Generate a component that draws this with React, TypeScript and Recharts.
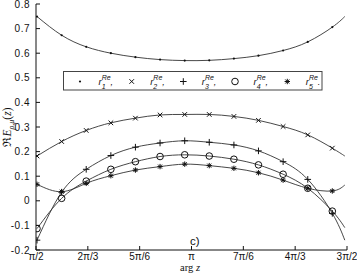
import React from 'react';
import { ComposedChart, Line, XAxis, YAxis, Customized } from 'recharts';

// arg z (radians) of the sampled points; last entry is the curve end (no marker)
const argZ = [1.581, 1.83, 2.078, 2.327, 2.575, 2.824, 3.073, 3.321, 3.57, 3.818, 4.067, 4.316, 4.564, 4.69];
const marked = [true, true, true, true, true, true, true, true, true, true, true, true, true, false];

const r1 = [0.749, 0.673, 0.626, 0.6, 0.584, 0.574, 0.57, 0.571, 0.578, 0.59, 0.611, 0.646, 0.706, 0.749];
const r2 = [0.182, 0.241, 0.286, 0.317, 0.336, 0.349, 0.351, 0.351, 0.343, 0.327, 0.302, 0.268, 0.214, 0.182];
const r3 = [-0.16, 0.035, 0.128, 0.184, 0.218, 0.235, 0.244, 0.238, 0.227, 0.203, 0.159, 0.087, -0.051, -0.16];
const r4 = [-0.113, 0.01, 0.08, 0.128, 0.159, 0.18, 0.187, 0.182, 0.169, 0.146, 0.108, 0.051, -0.042, -0.109];
const r5 = [0.067, 0.037, 0.071, 0.102, 0.125, 0.139, 0.149, 0.143, 0.132, 0.114, 0.084, 0.051, 0.04, 0.064];

const seriesKeys = ['r1', 'r2', 'r3', 'r4', 'r5'];
const seriesMarkers = ['dot', 'cross', 'plus', 'circle', 'star'];
const seriesIndex = ['1', '2', '3', '4', '5'];

const xTicks = [Math.PI / 2, (2 * Math.PI) / 3, (5 * Math.PI) / 6, Math.PI, (7 * Math.PI) / 6, (4 * Math.PI) / 3, (3 * Math.PI) / 2];
const xTickLabels = ['π/2', '2π/3', '5π/6', 'π', '7π/6', '4π/3', '3π/2'];
const yTicks = [-0.2, -0.1, 0, 0.1, 0.2, 0.3, 0.4, 0.5, 0.6, 0.7, 0.8];
const yTickLabels = ['-0.2', '-0.1', '0', '0.1', '0.2', '0.3', '0.4', '0.5', '0.6', '0.7', '0.8'];

const data = argZ.map((x, i) => ({ x, mark: marked[i], r1: r1[i], r2: r2[i], r3: r3[i], r4: r4[i], r5: r5[i] }));

const INK = '#111';
const TICK_FONT = '"Liberation Sans", Arial, sans-serif';
const SERIF = '"Liberation Serif", "Times New Roman", serif';

function Marker({ kind, cx, cy }: { kind: string; cx: number; cy: number }) {
  const s = 2.3;
  const p = 3.3;
  switch (kind) {
    case 'dot':
      return <circle cx={cx} cy={cy} r={1.1} fill={INK} />;
    case 'cross':
      return (
        <g stroke={INK} strokeWidth={1}>
          <line x1={cx - s} y1={cy - s} x2={cx + s} y2={cy + s} />
          <line x1={cx - s} y1={cy + s} x2={cx + s} y2={cy - s} />
        </g>
      );
    case 'plus':
      return (
        <g stroke={INK} strokeWidth={1}>
          <line x1={cx - p} y1={cy} x2={cx + p} y2={cy} />
          <line x1={cx} y1={cy - p} x2={cx} y2={cy + p} />
        </g>
      );
    case 'circle':
      return <circle cx={cx} cy={cy} r={3.3} fill="none" stroke={INK} strokeWidth={1} />;
    default:
      return (
        <g stroke={INK} strokeWidth={1}>
          <line x1={cx - 2} y1={cy - 2} x2={cx + 2} y2={cy + 2} />
          <line x1={cx - 2} y1={cy + 2} x2={cx + 2} y2={cy - 2} />
          <line x1={cx - 2.7} y1={cy} x2={cx + 2.7} y2={cy} />
          <line x1={cx} y1={cy - 2.7} x2={cx} y2={cy + 2.7} />
        </g>
      );
  }
}

const makeDot = (kind: string) => (props: any) => {
  const { cx, cy, index, payload } = props;
  if (!payload || !payload.mark || cx == null || cy == null) return <g key={`d-${kind}-${index}`} />;
  return (
    <g key={`d-${kind}-${index}`}>
      <Marker kind={kind} cx={cx} cy={cy} />
    </g>
  );
};

const nearest = (arr: number[], v: number) => {
  let idx = 0;
  let best = Infinity;
  arr.forEach((t, i) => {
    const d = Math.abs(t - v);
    if (d < best) {
      best = d;
      idx = i;
    }
  });
  return idx;
};

const XTick = (props: any) => {
  const { x, y, payload } = props;
  const idx = nearest(xTicks, payload.value);
  const axisY = y - 3;
  return (
    <g>
      <line x1={x} x2={x} y1={axisY} y2={axisY - 4} stroke={INK} strokeWidth={1} />
      <text x={x} y={y} dy="0.71em" textAnchor="middle" fontFamily={TICK_FONT} fontSize={10} fill={INK}>
        {xTickLabels[idx]}
      </text>
    </g>
  );
};

const YTick = (props: any) => {
  const { x, y, payload } = props;
  const idx = nearest(yTicks, payload.value);
  const axisX = x + 6;
  return (
    <g>
      <line x1={axisX} x2={axisX + 4} y1={y} y2={y} stroke={INK} strokeWidth={1} />
      <text x={x} y={y} dy="0.355em" textAnchor="end" fontFamily={TICK_FONT} fontSize={10} fill={INK} letterSpacing={0.5}>
        {yTickLabels[idx]}
      </text>
    </g>
  );
};

const Decorations = () => {
  const legendX = [80, 131.7, 183.3, 235, 287.3];
  return (
    <g>
      {/* legend */}
      <rect x={63.5} y={71.5} width={258.5} height={18.5} fill="#fff" stroke="#444" strokeWidth={1} />
      {seriesMarkers.map((m, i) => (
        <g key={m}>
          <Marker kind={m} cx={legendX[i]} cy={81.5} />
          <text x={legendX[i] + 18.5} y={85} fontFamily={TICK_FONT} fontStyle="italic" fontSize={9.5} fill={INK}>
            r
            <tspan fontSize={7} dy={-5.5}>Re</tspan>
            <tspan fontSize={7} dx={-9} dy={9}>{seriesIndex[i]}</tspan>
            <tspan fontSize={9} dx={5} dy={-3.5}>{i === 4 ? '.' : ','}</tspan>
          </text>
        </g>
      ))}
      {/* y axis title */}
      <text transform="translate(10.5,127) rotate(-90)" textAnchor="middle" fontFamily={SERIF} fontSize={11.5} fill={INK}>
        ℜ<tspan fontStyle="italic">E</tspan>
        <tspan fontSize={8} dy={3} fontStyle="italic">ρ,μ</tspan>
        <tspan dy={-3}>(</tspan>
        <tspan fontStyle="italic">z</tspan>
        <tspan>)</tspan>
      </text>
      {/* x axis title */}
      <text x={190} y={271} textAnchor="middle" fontFamily={SERIF} fontSize={10.5} fill={INK}>
        arg <tspan fontStyle="italic">z</tspan>
      </text>
      {/* panel tag */}
      <text x={190} y={245} fontFamily={TICK_FONT} fontSize={11.5} fill={INK}>
        c)
      </text>
    </g>
  );
};

export default function App() {
  return (
    <div style={{ width: 357, height: 279, background: '#fff' }}>
      <style>{'body{margin:0;background:#fff}'}</style>
      <ComposedChart width={357} height={279} data={data} margin={{ top: 4, right: 10, bottom: 0, left: 0 }}>
        <XAxis
          type="number"
          dataKey="x"
          domain={[Math.PI / 2, (3 * Math.PI) / 2]}
          ticks={xTicks}
          allowDataOverflow
          height={29}
          tickSize={0}
          tickMargin={3}
          tickLine={false}
          tick={<XTick />}
          axisLine={{ stroke: INK, strokeWidth: 1 }}
          interval={0}
        />
        <YAxis
          type="number"
          domain={[-0.2, 0.8]}
          ticks={yTicks}
          allowDataOverflow
          width={36}
          tickSize={0}
          tickMargin={6}
          tickLine={false}
          tick={<YTick />}
          axisLine={{ stroke: INK, strokeWidth: 1 }}
          interval={0}
        />
        {seriesKeys.map((k, i) => (
          <Line
            key={k}
            type="natural"
            dataKey={k}
            stroke="#333"
            strokeWidth={0.9}
            dot={makeDot(seriesMarkers[i])}
            activeDot={false}
            isAnimationActive={false}
          />
        ))}
        <Customized component={Decorations} />
      </ComposedChart>
    </div>
  );
}
